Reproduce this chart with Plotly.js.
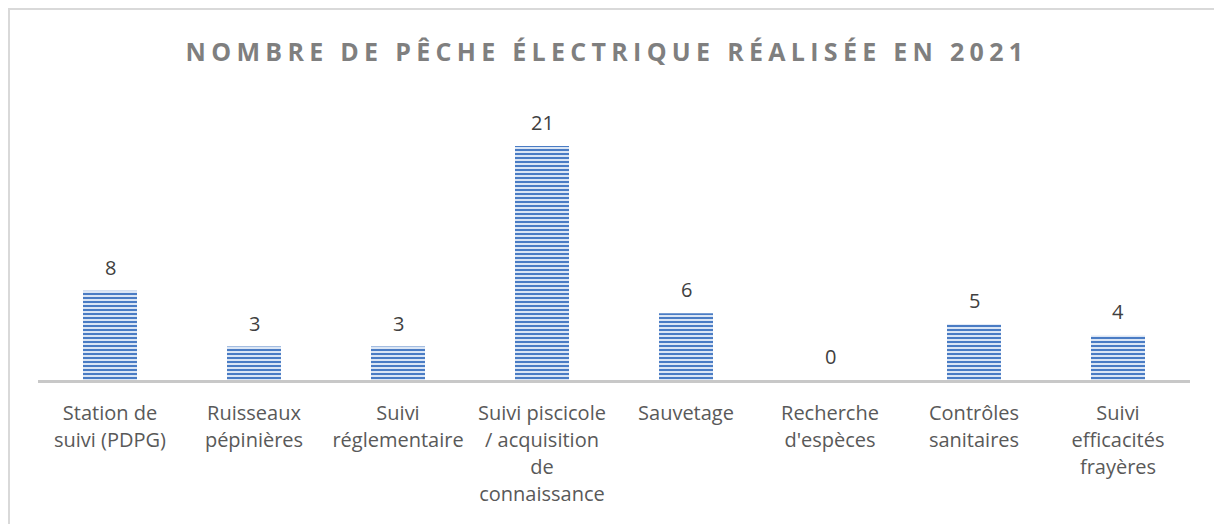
<!DOCTYPE html>
<html>
<head>
<meta charset="utf-8">
<script src="https://cdn.plot.ly/plotly-3.0.1.min.js"></script>
<style>
  html, body { margin: 0; padding: 0; background: #fff; }
  #frame { position: absolute; left: 8px; top: 8px; width: 1220px; height: 530px;
           border-left: 2px solid #d9d9d9; border-top: 2px solid #d9d9d9; box-sizing: border-box; }
  #chart { position: absolute; left: 0; top: 0; width: 1214px; height: 524px; }
  .gtitle { letter-spacing: 5.3px; }
</style>
</head>
<body>
<div id="frame"></div>
<div id="chart"></div>
<script>
const categories = [
  "Station de<br>suivi (PDPG)",
  "Ruisseaux<br>pépinières",
  "Suivi<br>réglementaire",
  "Suivi piscicole<br>/ acquisition<br>de<br>connaissance",
  "Sauvetage",
  "Recherche<br>d'espèces",
  "Contrôles<br>sanitaires",
  "Suivi<br>efficacités<br>frayères"
];
const values = [8, 3, 3, 21, 6, 0, 5, 4];
const chartTitle = "NOMBRE DE PÊCHE ÉLECTRIQUE RÉALISÉE EN 2021";

const trace = {
  type: "bar",
  x: categories,
  y: values,
  marker: {
    color: "#c9d9f0",
    line: { width: 0 },
    pattern: { shape: "-", fgcolor: "#4a7cc4", bgcolor: "#dbe6f5", size: 4, solidity: 0.5, fillmode: "replace" }
  },
  hoverinfo: "none"
};

const annotations = categories.map((c, i) => ({
  x: c, y: values[i], xref: "x", yref: "y",
  text: String(values[i]), showarrow: false,
  yanchor: "bottom", yshift: 8,
  font: { family: "'Open Sans', sans-serif", size: 20, color: "#404040" }
}));

const layout = {
  width: 1214, height: 524,
  margin: { l: 38, r: 24, t: 100, b: 144 },
  paper_bgcolor: "rgba(0,0,0,0)",
  plot_bgcolor: "rgba(0,0,0,0)",
  title: {
    text: chartTitle,
    x: 0.5, xanchor: "center", y: 0.9, yanchor: "middle",
    font: { family: "'Open Sans', sans-serif", size: 25, weight: 700, color: "#7f7f7f" }
  },
  bargap: 0.625,
  showlegend: false,
  xaxis: {
    type: "category",
    showline: true, linecolor: "#c8c8c8", linewidth: 3,
    ticks: "", showgrid: false, zeroline: false,
    tickfont: { family: "'Open Sans', sans-serif", size: 20, color: "#595959" },
    ticklabelstandoff: 13
  },
  yaxis: {
    range: [0, 25.13], visible: false, showgrid: false, zeroline: false, fixedrange: true
  },
  annotations: annotations
};

Plotly.newPlot("chart", [trace], layout, { displayModeBar: false, staticPlot: true }).then(() => {
  document.querySelectorAll(".xtick text tspan.line").forEach(t => {
    const dy = t.getAttribute("dy");
    if (dy && dy.endsWith("em")) {
      t.setAttribute("dy", (parseFloat(dy) * 1.04) + "em");
    }
  });
});
</script>
</body>
</html>
